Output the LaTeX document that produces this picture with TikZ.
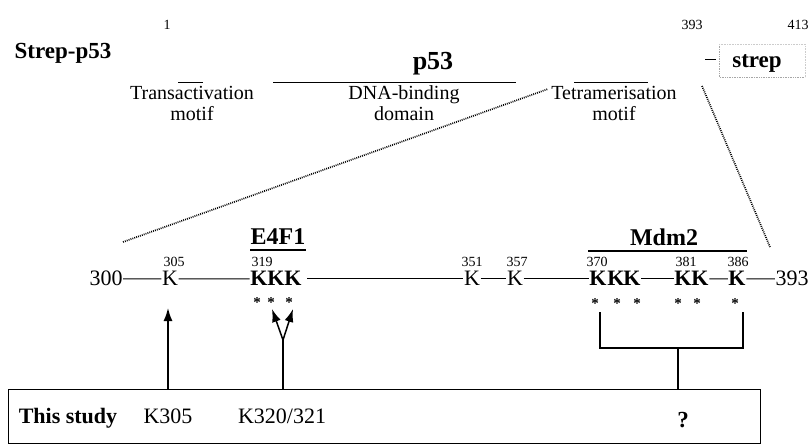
\documentclass[tikz,border=0pt]{standalone}
\usepackage{fontspec}
\setmainfont{Liberation Serif}
\usetikzlibrary{arrows.meta}
\begin{document}
\begin{tikzpicture}[x=1pt,y=-1pt,
  lbl/.style={font=\fontsize{20}{21}\selectfont, inner sep=0pt, align=center, anchor=base},
  ttl/.style={font=\bfseries\fontsize{23}{26}\selectfont, inner sep=0pt, anchor=base},
  num/.style={font=\fontsize{14}{15}\selectfont, inner sep=0pt, anchor=base},
  res/.style={font=\fontsize{22}{26}\selectfont, inner sep=0.5pt, anchor=base},
  resb/.style={res, font=\bfseries\fontsize{22}{26}\selectfont},
  sup/.style={font=\fontsize{14}{15}\selectfont, inner sep=0pt, anchor=base},
  ast/.style={font=\bfseries\fontsize{15}{15}\selectfont, inner sep=0pt},
  chain/.style={line width=1pt},
  bar/.style={line width=0.9pt},
  uline/.style={line width=1.8pt},
  zoomline/.style={line width=1.7pt, dash pattern=on 0.9pt off 1.1pt},
  stem/.style={line width=1.5pt},
  arr/.style={line width=1.5pt, -{Latex[length=13pt,width=9pt]}},
  frame/.style={draw, line width=1.2pt, inner sep=0pt, anchor=north west}
]
\useasboundingbox (0,0) rectangle (811,446);

% ---- top: construct ----
\node[num] (one) at (167,30) {1};
\node[num] (n393top) at (692,30) {393};
\node[num] (n413) at (798,30) {413};
\node[ttl] (strepp53) at (63,59) {Strep-p53};
\node[ttl, font=\bfseries\fontsize{26}{28}\selectfont] (p53) at (433,70) {p53};
\node[ttl] (strep) at (757,68) {strep};
\draw[gray!70, densely dotted, line width=0.7pt] (719,44) -- (719,77) -- (805,77);
\draw[gray!40, densely dotted, line width=0.6pt] (719,44) -- (805,44) -- (805,77);
\draw[bar] (705,59) -- (716,59);

\node[lbl] (ta) at (192,121) {Transactivation\\motif};
\node[lbl] (dbd) at (404,121) {DNA-binding\\domain};
\node[lbl] (tet) at (614,121) {Tetramerisation\\motif};
\draw[bar] (178,82) -- (203,82);
\draw[bar] (273,82) -- (516,82);
\draw[bar] (574,82) -- (648,82);

% ---- zoom lines ----
\coordinate (zl1) at (123,242);
\coordinate (zl2) at (548,89);
\coordinate (zr1) at (702,86);
\coordinate (zr2) at (770,247);
\draw[zoomline] (zl1) -- (zl2);
\draw[zoomline] (zr1) -- (zr2);

% ---- binding regions ----
\node[ttl, font=\bfseries\fontsize{24}{26}\selectfont] (e4f1) at (278,245) {E4F1};
\draw[uline] (250,250) -- (306,250);
\node[ttl, font=\bfseries\fontsize{24}{26}\selectfont] (mdm2) at (664,246) {Mdm2};
\draw[uline] (588,251) -- (747,251);

% ---- residue row ----
\node[res] (r300) at (106,286) {300};
\node[res] (k305) at (170,286) {K};
\node[resb] (k319) at (259,286) {K};
\node[resb] (k320) at (276,286) {K};
\node[resb] (k321) at (293,286) {K};
\node[res] (k351) at (472,286) {K};
\node[res] (k357) at (515,286) {K};
\node[resb] (k370) at (598,286) {K};
\node[resb] (k372) at (616,286) {K};
\node[resb] (k373) at (632,286) {K};
\node[resb] (k381) at (683,286) {K};
\node[resb] (k382) at (700,286) {K};
\node[resb] (k386) at (737,286) {K};
\node[res] (r393) at (792,286) {393};

\draw[chain] (r300) -- (k305) -- (k319);
\draw[chain, shorten <=5pt] (k321) -- (k351);
\draw[chain] (k351) -- (k357) -- (k370);
\draw[chain] (k373) -- (k381);
\draw[chain] (k382) -- (k386) -- (r393);

\node[sup] (s305) at (174,267) {305};
\node[sup] (s319) at (262,267) {319};
\node[sup] (s351) at (472,267) {351};
\node[sup] (s357) at (517,267) {357};
\node[sup] (s370) at (597,267) {370};
\node[sup] (s381) at (686,267) {381};
\node[sup] (s386) at (738,267) {386};

\node[ast] (a319) at (257,303) {*};
\node[ast] (a320) at (271,303) {*};
\node[ast] (a321) at (289,303) {*};
\node[ast] (a370) at (595,304) {*};
\node[ast] (a372) at (617,304) {*};
\node[ast] (a373) at (637,304) {*};
\node[ast] (a381) at (678,304) {*};
\node[ast] (a382) at (697,304) {*};
\node[ast] (a386) at (735,304) {*};

% ---- study box ----
\node[frame, minimum width=752pt, minimum height=54pt] (box) at (8,389) {};
\node[ttl, font=\bfseries\fontsize{22}{24}\selectfont] (thisstudy) at (68,423) {This study};
\node[res] (tk305) at (168,423) {K305};
\node[res] (tk320) at (282,423) {K320/321};
\node[ttl] (q) at (683,427) {?};

% ---- arrows ----
\coordinate (t305) at (168,308);
\draw[arr] (box.north -| t305) -- (t305);
\coordinate (fork) at (283,340);
\coordinate (t320) at (272,309);
\coordinate (t321) at (293,309);
\draw[stem] (box.north -| fork) -- (fork);
\draw[arr] (fork) -- (t320);
\draw[arr] (fork) -- (t321);

\coordinate (bl) at (600,312);
\coordinate (br) at (743,312);
\coordinate (bj) at (678,348);
\draw[stem] (bl) |- (bj) -| (br);
\draw[stem] (bj) -- (box.north -| bj);
\end{tikzpicture}
\end{document}
